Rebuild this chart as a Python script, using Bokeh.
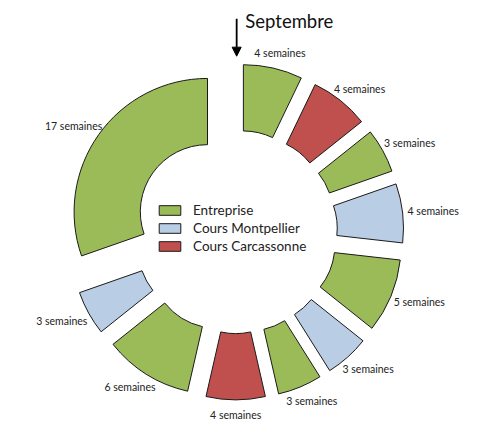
import numpy as np
from bokeh.plotting import figure
from bokeh.models import ColumnDataSource, Range1d, Legend, LegendItem, Arrow, NormalHead
from bokeh.core.properties import value
from bokeh.embed import file_html
from bokeh.resources import INLINE

# ---- data (clockwise from "Septembre") ----
weeks = [4, 4, 3, 4, 5, 3, 3, 4, 6, 3, 17]
kinds = ["Entreprise", "Cours Carcassonne", "Entreprise", "Cours Montpellier", "Entreprise",
         "Cours Montpellier", "Entreprise", "Cours Carcassonne", "Entreprise",
         "Cours Montpellier", "Entreprise"]
labels = [f"{w} semaines" for w in weeks]
legend_order = ["Entreprise", "Cours Montpellier", "Cours Carcassonne"]
colors = {"Entreprise": "#9BBB59", "Cours Montpellier": "#B9CDE5", "Cours Carcassonne": "#C0504D"}
start_label = "Septembre"

# ---- layout: data units = reference pixels (y from top), drawn at scale 0.96 ----
W, H = 461, 427
SCALE = 0.96
REF_H = 443
TOP = 0  # reference y shown at the top edge
cx, cy_page = 245, 241
r_in, r_out, explode = 70, 139, 36
lab_rx, lab_ry = 207, 191   # label ellipse (text box half-size added to the ring gap)

def ydata(y_page):
    return REF_H - y_page

cy = ydata(cy_page)

p = figure(width=W, height=H, output_backend="svg", toolbar_location=None,
           x_range=Range1d(0, W / SCALE),
           y_range=Range1d(REF_H - TOP - H / SCALE, REF_H - TOP),
           min_border=0)
p.axis.visible = False
p.grid.visible = False
p.outline_line_color = None

w = np.array(weeks, dtype=float)
tot = w.sum()
b = np.cumsum(w) / tot
a = b - w / tot
mid = (a + b) / 2
start = np.pi / 2 - 2 * np.pi * b
end = np.pi / 2 - 2 * np.pi * a
ox = cx + explode * np.sin(2 * np.pi * mid)
oy = cy + explode * np.cos(2 * np.pi * mid)

renderers = {}
for k in legend_order:
    idx = [i for i, kk in enumerate(kinds) if kk == k]
    src = ColumnDataSource(dict(x=ox[idx], y=oy[idx], s=start[idx], e=end[idx]))
    renderers[k] = p.annular_wedge(x="x", y="y", inner_radius=r_in, outer_radius=r_out,
                                   start_angle="s", end_angle="e", source=src,
                                   fill_color=colors[k], line_color="#1a1a1a", line_width=1)

lab_src = ColumnDataSource(dict(x=cx + lab_rx * np.sin(2 * np.pi * mid),
                                y=cy + lab_ry * np.cos(2 * np.pi * mid), t=labels))
p.text(x="x", y="y", text="t", source=lab_src, text_font=value("Lato"),
       text_font_size="10.5px", text_color="#222222", text_align="center",
       text_baseline="middle")

# Septembre arrow + title
p.add_layout(Arrow(end=NormalHead(size=9, fill_color="black", line_color="black"),
                   x_start=cx + 1, y_start=ydata(19), x_end=cx + 1, y_end=ydata(58),
                   line_width=1.8, line_color="black"))
p.text(x=[cx + 10], y=[ydata(21)], text=[start_label], text_font=value("Lato"),
       text_font_size="18.5px", text_color="#111111", text_align="left",
       text_baseline="middle")

legend = Legend(items=[LegendItem(label=k, renderers=[renderers[k]]) for k in legend_order],
                location=(156, 173), padding=0, margin=0, spacing=1,
                glyph_width=27, glyph_height=12, label_height=17, label_standoff=10,
                label_text_font="Lato", label_text_font_size="13.5px",
                label_text_color="#222222",
                border_line_alpha=0, background_fill_alpha=0)
p.add_layout(legend, "center")

open("out.html", "w").write(file_html(p, INLINE))
